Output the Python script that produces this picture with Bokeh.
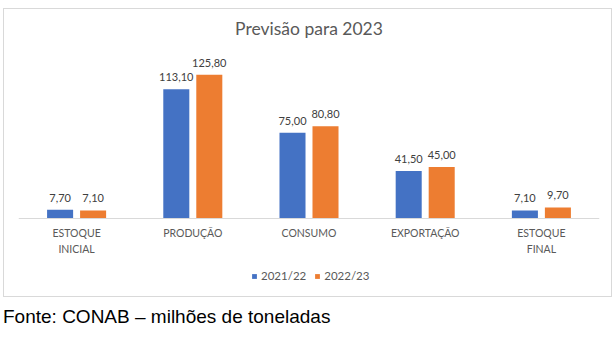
from bokeh.plotting import figure
from bokeh.models import ColumnDataSource, FactorRange, Div, Range1d, Legend, LegendItem, Span, Label
from bokeh.transform import dodge
from bokeh.layouts import column
from bokeh.embed import file_html
from bokeh.resources import INLINE
from bokeh.core.properties import value

title_text = "Previsão para 2023"
categories = ["ESTOQUE\nINICIAL", "PRODUÇÃO", "CONSUMO", "EXPORTAÇÃO", "ESTOQUE\nFINAL"]
series_names = ["2021/22", "2022/23"]
values_2122 = [7.70, 113.10, 75.00, 41.50, 7.10]
values_2223 = [7.10, 125.80, 80.80, 45.00, 9.70]

def fmt(v):
    return f"{v:.2f}".replace(".", ",")

src = ColumnDataSource(dict(
    cat=categories,
    zero=[0] * len(categories),
    a=values_2122,
    b=values_2223,
    la=[fmt(v) for v in values_2122],
    lb=[fmt(v) for v in values_2223],
))

FONT = "Lato"
GREY = "#595959"

# the frame fills the bordered box; title, category labels and legend sit inside it
p = figure(x_range=FactorRange(*categories), y_range=Range1d(-63, 182.9),
           x_axis_location=None, y_axis_location=None,
           width=609, height=289, output_backend="svg", toolbar_location=None,
           min_border_left=14, min_border_right=14, min_border_top=0, min_border_bottom=8,
           outline_line_color=None, background_fill_color="white", border_fill_color="white")
p.margin = (8, 0, 0, 3)
p.styles = {"border": "1px solid #d9d9d9"}
p.xgrid.visible = False
p.ygrid.visible = False

p.add_layout(Label(x=len(categories) / 2, y=166, text=title_text,
                   text_align="center", text_baseline="middle",
                   text_font=FONT, text_font_size="17.5px", text_color=GREY))

r1 = p.vbar(x=dodge("cat", -0.142, range=p.x_range), top="a", width=0.224, source=src,
            fill_color="#4472C4", line_color=None)
r2 = p.vbar(x=dodge("cat", 0.142, range=p.x_range), top="b", width=0.224, source=src,
            fill_color="#ED7D31", line_color=None)

for off, col in ((-0.142, "a"), (0.142, "b")):
    p.text(x=dodge("cat", off, range=p.x_range), y=col, text="l" + col, source=src,
           text_align="center", text_baseline="bottom", y_offset=-8,
           text_font=value(FONT), text_font_size="11px", text_color="#404040")

# category axis: baseline + labels
p.add_layout(Span(location=0, dimension="width", line_color="#d9d9d9", line_width=1))
p.text(x="cat", y="zero", text="cat", source=src, text_align="center", text_baseline="top",
       y_offset=8, text_line_height=1.4,
       text_font=value(FONT), text_font_size="10.5px", text_color=GREY)

legend = Legend(items=[LegendItem(label=series_names[0], renderers=[r1]),
                       LegendItem(label=series_names[1], renderers=[r2])],
                orientation="horizontal", location=(233, 8),
                glyph_width=6, glyph_height=6, label_standoff=4, spacing=8,
                label_text_font=FONT, label_text_font_size="11.5px", label_text_color=GREY,
                border_line_color=None, background_fill_alpha=0, margin=0, padding=0)
p.add_layout(legend)

footer = Div(text="Fonte: CONAB – milhões de toneladas",
             styles={"font-family": "Liberation Sans, Arial, sans-serif", "font-size": "19px",
                     "color": "#000000"},
             margin=(6, 0, 0, 3))

layout = column(p, footer, spacing=0)

open("out.html", "w").write(file_html(layout, INLINE))
